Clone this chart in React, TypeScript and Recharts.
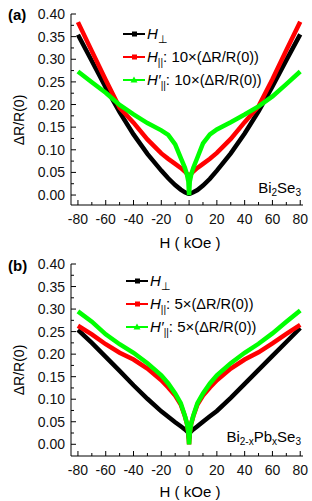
import React from 'react';
import { LineChart, Line, XAxis, YAxis } from 'recharts';

// magnetic field (kOe)
const fieldKOe = [-80, -70, -60, -50, -40, -30, -20, -15, -10, -6, -3, -1.5, -0.5, 0, 0.5, 1.5, 3, 6, 10, 15, 20, 30, 40, 50, 60, 70, 80];
const xTicks = [-80, -70, -60, -50, -40, -30, -20, -10, 0, 10, 20, 30, 40, 50, 60, 70, 80];
const yTicks = [0, 0.025, 0.05, 0.075, 0.1, 0.125, 0.15, 0.175, 0.2, 0.225, 0.25, 0.275, 0.3, 0.325, 0.35, 0.375, 0.4];

// panel (a) Bi2Se3
const aPerp = [0.354, 0.296, 0.238, 0.183, 0.134, 0.091, 0.054, 0.037, 0.022, 0.012, 0.006, 0.004, 0.003, 0.003, 0.003, 0.004, 0.006, 0.011, 0.021, 0.036, 0.054, 0.092, 0.136, 0.185, 0.240, 0.298, 0.355];
const aPar = [0.382, 0.318, 0.254, 0.193, 0.160, 0.123, 0.092, 0.080, 0.069, 0.060, 0.052, 0.047, 0.042, 0.035, 0.042, 0.047, 0.052, 0.060, 0.069, 0.080, 0.093, 0.124, 0.161, 0.196, 0.256, 0.320, 0.383];
const aParPrime = [0.273, 0.249, 0.226, 0.199, 0.178, 0.159, 0.143, 0.133, 0.112, 0.082, 0.060, 0.045, 0.030, 0.0, 0.030, 0.045, 0.060, 0.083, 0.114, 0.134, 0.145, 0.161, 0.178, 0.196, 0.218, 0.245, 0.273];

// panel (b) Bi2-xPbxSe3
const bPerp = [0.254, 0.225, 0.194, 0.163, 0.131, 0.101, 0.073, 0.061, 0.049, 0.040, 0.033, 0.029, 0.025, 0.013, 0.025, 0.029, 0.033, 0.040, 0.050, 0.062, 0.074, 0.103, 0.134, 0.165, 0.196, 0.227, 0.258];
const bPar = [0.263, 0.244, 0.222, 0.203, 0.188, 0.168, 0.142, 0.126, 0.108, 0.088, 0.062, 0.045, 0.025, 0.0, 0.025, 0.045, 0.062, 0.088, 0.108, 0.126, 0.142, 0.168, 0.188, 0.204, 0.224, 0.245, 0.265];
const bParPrime = [0.295, 0.272, 0.244, 0.222, 0.203, 0.180, 0.153, 0.135, 0.113, 0.091, 0.063, 0.046, 0.025, 0.0, 0.025, 0.046, 0.063, 0.091, 0.113, 0.135, 0.153, 0.180, 0.203, 0.223, 0.246, 0.272, 0.297];

const buildRows = (perp: number[], par: number[], parP: number[]) =>
  fieldKOe.map((h, i) => ({ h, perp: perp[i], par: par[i], parP: parP[i] }));

const dataA = buildRows(aPerp, aPar, aParPrime);
const dataB = buildRows(bPerp, bPar, bParPrime);

const FONT = "'Liberation Sans', Arial, Helvetica, sans-serif";
const X_DOMAIN: [number, number] = [-85, 82];

const XTick = (p: any) => {
  const { x, y, payload, side } = p;
  const v = payload.value;
  const major = Math.round(v) % 20 === 0;
  const len = major ? 5 : 3;
  const dir = side === 'bottom' ? -1 : 1;
  return (
    <g>
      <line x1={x} x2={x} y1={y} y2={y + dir * len} stroke="#000" strokeWidth={1} />
      {side === 'bottom' && major && (
        <text x={x} y={y + 19} textAnchor="middle" fontSize={14} fontFamily={FONT} fill="#111">
          {String(v)}
        </text>
      )}
    </g>
  );
};

const YTick = (p: any) => {
  const { x, y, payload, side } = p;
  const v = payload.value;
  const major = Math.round(v * 1000) % 50 === 0;
  const len = major ? 5 : 3;
  const dir = side === 'left' ? 1 : -1;
  return (
    <g>
      <line x1={x} x2={x + dir * len} y1={y} y2={y} stroke="#000" strokeWidth={1} />
      {side === 'left' && major && (
        <text x={x - 6} y={y + 5} textAnchor="end" fontSize={14} fontFamily={FONT} fill="#111">
          {v.toFixed(2)}
        </text>
      )}
    </g>
  );
};

function Panel({ data, yDomain, height }: { data: any[]; yDomain: [number, number]; height: number }) {
  return (
    <LineChart width={312} height={height} data={data} margin={{ top: 14, right: 9, bottom: 0, left: 0 }}>
      <XAxis
        xAxisId="b"
        dataKey="h"
        type="number"
        domain={X_DOMAIN}
        ticks={xTicks}
        interval={0}
        height={45}
        tickLine={false}
        tickSize={0}
        tickMargin={0}
        axisLine={{ stroke: '#000', strokeWidth: 1 }}
        tick={(p: any) => <XTick {...p} side="bottom" />}
        allowDataOverflow
      />
      <XAxis
        xAxisId="t"
        orientation="top"
        dataKey="h"
        type="number"
        domain={X_DOMAIN}
        ticks={xTicks}
        interval={0}
        height={0}
        tickLine={false}
        tickSize={0}
        tickMargin={0}
        axisLine={{ stroke: '#000', strokeWidth: 1 }}
        tick={(p: any) => <XTick {...p} side="top" />}
        allowDataOverflow
      />
      <YAxis
        yAxisId="l"
        type="number"
        domain={yDomain}
        ticks={yTicks}
        interval={0}
        width={71}
        tickLine={false}
        tickSize={0}
        tickMargin={0}
        axisLine={{ stroke: '#000', strokeWidth: 1 }}
        tick={(p: any) => <YTick {...p} side="left" />}
        allowDataOverflow
      />
      <YAxis
        yAxisId="r"
        orientation="right"
        type="number"
        domain={yDomain}
        ticks={yTicks}
        interval={0}
        width={0}
        tickLine={false}
        tickSize={0}
        tickMargin={0}
        axisLine={{ stroke: '#000', strokeWidth: 1 }}
        tick={(p: any) => <YTick {...p} side="right" />}
        allowDataOverflow
      />
      <Line xAxisId="b" yAxisId="l" type="linear" dataKey="perp" stroke="#000000" strokeWidth={4.5} dot={false} isAnimationActive={false} />
      <Line xAxisId="b" yAxisId="l" type="linear" dataKey="par" stroke="#ff0000" strokeWidth={4.5} dot={false} isAnimationActive={false} />
      <Line xAxisId="b" yAxisId="l" type="linear" dataKey="parP" stroke="#00ff00" strokeWidth={4.5} dot={false} isAnimationActive={false} />
    </LineChart>
  );
}

const LegendSample = ({ x, y, color, shape }: { x: number; y: number; color: string; shape: string }) => (
  <g>
    <line x1={x} x2={x + 22} y1={y} y2={y} stroke={color} strokeWidth={2} />
    {shape === 'square' ? (
      <rect x={x + 9} y={y - 2.5} width={5} height={5} fill={color} />
    ) : (
      <polygon points={`${x + 11},${y - 3.5} ${x + 14.5},${y + 2.5} ${x + 7.5},${y + 2.5}`} fill={color} />
    )}
  </g>
);

const LegendBlock = ({ x, y0, factor }: { x: number; y0: number; factor: string }) => (
  <g fontFamily={FONT} fontSize={15} fill="#000">
    <LegendSample x={x} y={y0} color="#000000" shape="square" />
    <text x={x + 24} y={y0 + 5}>
      <tspan fontStyle="italic">H</tspan>
      <tspan dy={4} fontSize={11}>⊥</tspan>
    </text>
    <LegendSample x={x} y={y0 + 23} color="#ff0000" shape="square" />
    <text x={x + 24} y={y0 + 28}>
      <tspan fontStyle="italic">H</tspan>
      <tspan dy={4} fontSize={10}>||</tspan>
      <tspan dy={-4}>{`: ${factor}×`}</tspan>
      <tspan fontSize={14.5}>(ΔR/R(0))</tspan>
    </text>
    <LegendSample x={x} y={y0 + 46} color="#00ff00" shape="triangle" />
    <text x={x + 24} y={y0 + 51}>
      <tspan fontStyle="italic">H′</tspan>
      <tspan dy={4} fontSize={10}>||</tspan>
      <tspan dy={-4}>{`: ${factor}×`}</tspan>
      <tspan fontSize={14.5}>(ΔR/R(0))</tspan>
    </text>
  </g>
);

export default function App() {
  return (
    <div style={{ position: 'absolute', left: 0, top: 0, width: 312, height: 501, background: '#fff', overflow: 'hidden' }}>
      <div style={{ position: 'absolute', left: 0, top: 0 }}>
        <Panel data={dataA} yDomain={[-0.022, 0.4]} height={250} />
      </div>
      <div style={{ position: 'absolute', left: 0, top: 250 }}>
        <Panel data={dataB} yDomain={[-0.026, 0.4]} height={251} />
      </div>
      <svg width={312} height={501} style={{ position: 'absolute', left: 0, top: 0, pointerEvents: 'none' }}>
        <g fontFamily={FONT} fill="#000">
          <text x={8} y={20} fontSize={15} fontWeight="bold">(a)</text>
          <text x={8} y={271} fontSize={15} fontWeight="bold">(b)</text>
          <text x={24} y={120} fontSize={14} textAnchor="middle" transform="rotate(-90 24 120)">ΔR/R(0)</text>
          <text x={24} y={370} fontSize={14} textAnchor="middle" transform="rotate(-90 24 370)">ΔR/R(0)</text>
          <text x={190} y={248} fontSize={15} textAnchor="middle">H ( kOe )</text>
          <text x={190} y={497} fontSize={15} textAnchor="middle">H ( kOe )</text>
          <text x={301} y={193} fontSize={15} textAnchor="end">
            Bi<tspan dy={3} fontSize={10}>2</tspan><tspan dy={-3}>Se</tspan><tspan dy={3} fontSize={10}>3</tspan>
          </text>
          <text x={301} y={442} fontSize={15} textAnchor="end">
            Bi<tspan dy={3} fontSize={10}>2-x</tspan><tspan dy={-3}>Pb</tspan><tspan dy={3} fontSize={10}>x</tspan><tspan dy={-3}>Se</tspan><tspan dy={3} fontSize={10}>3</tspan>
          </text>
        </g>
        <LegendBlock x={123} y0={34} factor="10" />
        <LegendBlock x={126} y0={281} factor="5" />
      </svg>
    </div>
  );
}
